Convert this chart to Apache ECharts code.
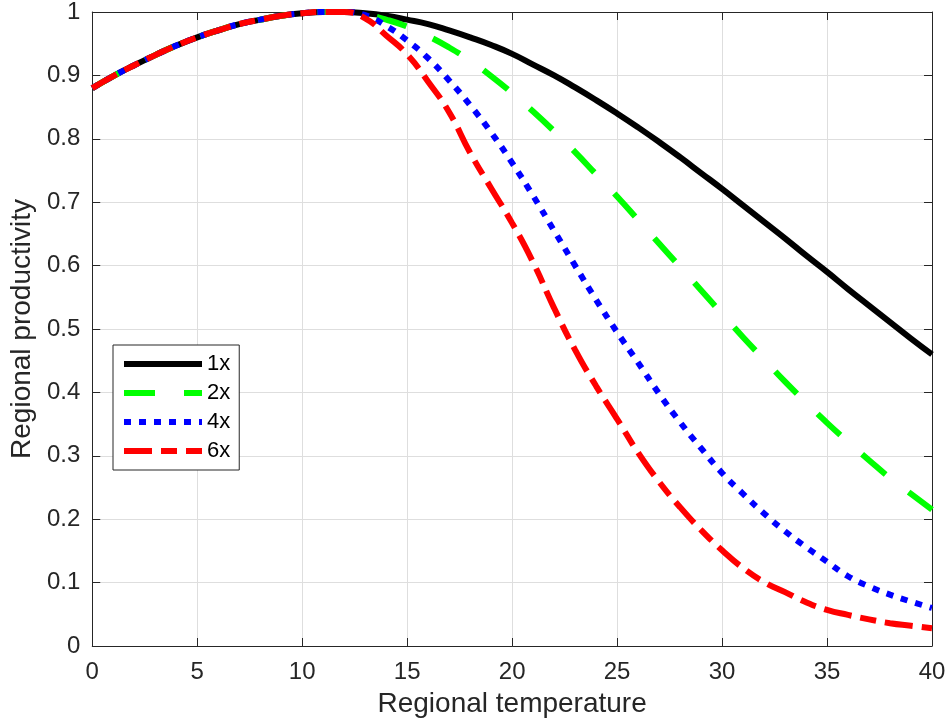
<!DOCTYPE html>
<html><head><meta charset="utf-8">
<script src="https://cdn.jsdelivr.net/npm/echarts@6/dist/echarts.min.js"></script>
<style>html,body{margin:0;padding:0;background:#fff}#c{width:950px;height:727px}</style>
</head><body><div id="c"></div>
<script>
// Regional temperature sample points
const temperature = [0,1,2,3,4,5,6,7,8,9,10,11,11.5,12,13,14,15,16,17,18,19,20,21,22,23,24,25,26,27,28,29,30,31,32,33,34,35,36,37,38,39,40];
// shared rising part (T = 0 .. 11.5)
const commonRise = [0.880,0.899,0.916,0.932,0.947,0.960,0.971,0.981,0.988,0.994,0.998,1.000,1.000];
// declining parts (T = 12 .. 40)
const tail1x = [1.000,0.998,0.994,0.988,0.981,0.971,0.960,0.948,0.934,0.917,0.900,0.881,0.861,0.840,0.818,0.795,0.771,0.746,0.721,0.695,0.669,0.643,0.616,0.590,0.563,0.537,0.511,0.485,0.460];
const tail2x = [1.000,0.996,0.988,0.977,0.962,0.944,0.923,0.899,0.872,0.843,0.812,0.779,0.744,0.709,0.672,0.635,0.598,0.561,0.524,0.487,0.452,0.417,0.384,0.352,0.322,0.293,0.265,0.240,0.215];
const tail4x = [1.000,0.995,0.978,0.955,0.927,0.892,0.853,0.810,0.762,0.710,0.655,0.600,0.546,0.495,0.447,0.398,0.353,0.312,0.273,0.240,0.209,0.181,0.156,0.133,0.110,0.094,0.081,0.070,0.060];
const tail6x = [1.000,0.990,0.963,0.933,0.890,0.842,0.778,0.722,0.667,0.605,0.533,0.467,0.410,0.358,0.305,0.259,0.219,0.183,0.151,0.123,0.101,0.085,0.069,0.057,0.049,0.042,0.036,0.032,0.028];
const seriesNames = ['1x','2x','4x','6x'];
const xTicks = {min:0, max:40, interval:5};
const yTicks = {min:0, max:1, interval:0.1};

const tails = [tail1x, tail2x, tail4x, tail6x];
const colors = ['#000000','#00ff00','#0000ff','#ff0000'];
const dashes = ['solid',[31,29],[7,8],[28,9,16,9]];
const FONT = "'Liberation Sans', Arial, Helvetica, sans-serif";
const TXT = '#262626';

const series = seriesNames.map((n,k)=>{
  const vals = commonRise.concat(tails[k]);
  return {
    name:n, type:'line', xAxisIndex:0, yAxisIndex:0,
    symbol:'none', showSymbol:false, smooth:0.5,
    lineStyle:{color:colors[k], width:6, type:dashes[k], cap:'butt'},
    itemStyle:{color:colors[k]},
    data: temperature.map((t,i)=>[t, vals[i]])
  };
});

const axisLine = {onZero:false, lineStyle:{color:TXT, width:1}};
const chart = echarts.init(document.getElementById('c'), null, {renderer:'canvas'});
chart.setOption({
  animation:false,
  backgroundColor:'#fff',
  textStyle:{fontFamily:FONT},
  grid:{left:92, right:18, top:12, bottom:81, containLabel:false},
  legend:{
    orient:'vertical', left:113, top:345,
    itemWidth:78, itemHeight:14, itemGap:7,
    padding:[8,9,8,8],
    backgroundColor:'#fff', borderColor:TXT, borderWidth:1,
    itemStyle:{color:'rgba(0,0,0,0)', borderWidth:0, opacity:0},
    lineStyle:{width:6, cap:'butt'},
    textStyle:{fontSize:22, color:'#000', fontFamily:FONT, padding:[0,0,0,0]},
    data:seriesNames
  },
  xAxis:[{
    type:'value', position:'bottom', min:xTicks.min, max:xTicks.max, interval:xTicks.interval,
    name:'Regional temperature', nameLocation:'middle', nameGap:44,
    nameTextStyle:{fontSize:28, color:TXT, fontFamily:FONT},
    axisLine:axisLine,
    axisTick:{inside:true, length:8, lineStyle:{color:TXT}},
    axisLabel:{fontSize:24, color:TXT, margin:14, fontFamily:FONT},
    splitLine:{show:true, lineStyle:{color:'#dedede', width:1}}
  },{
    type:'value', position:'top', min:xTicks.min, max:xTicks.max, interval:xTicks.interval,
    axisLine:axisLine,
    axisTick:{inside:true, length:8, lineStyle:{color:TXT}},
    axisLabel:{show:false}, splitLine:{show:false}
  }],
  yAxis:[{
    type:'value', position:'left', min:yTicks.min, max:yTicks.max, interval:yTicks.interval,
    name:'Regional productivity', nameLocation:'middle', nameGap:56, nameRotate:90,
    nameTextStyle:{fontSize:28, color:TXT, fontFamily:FONT},
    axisLine:axisLine,
    axisTick:{inside:true, length:8, lineStyle:{color:TXT}},
    axisLabel:{fontSize:24, color:TXT, margin:12, fontFamily:FONT},
    splitLine:{show:true, lineStyle:{color:'#dedede', width:1}}
  },{
    type:'value', position:'right', min:yTicks.min, max:yTicks.max, interval:yTicks.interval,
    axisLine:axisLine,
    axisTick:{inside:true, length:8, lineStyle:{color:TXT}},
    axisLabel:{show:false}, splitLine:{show:false}
  }],
  series:series
});
</script>
</body></html>
